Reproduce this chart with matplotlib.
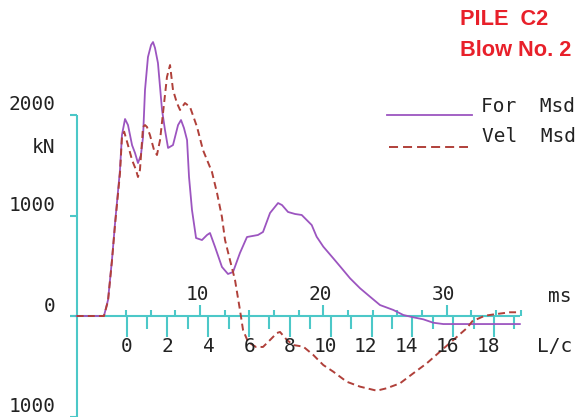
import matplotlib
matplotlib.use("Agg")
import matplotlib.pyplot as plt

plt.rcParams['lines.scale_dashes'] = False

# Measured force and velocity (velocity scaled to kN), time in ms
t_force = [0, 2.21, 2.54, 2.86, 3.11, 3.51, 3.67, 3.92, 4.16, 4.49, 4.73, 4.97, 5.21,
           5.38, 5.54, 5.78, 6.03, 6.19, 6.35, 6.59, 6.92, 7.16, 7.41, 7.81, 8.22, 8.46,
           8.70, 8.95, 9.11, 9.35, 9.68, 10.16, 10.57, 10.81, 11.22, 11.78, 12.27, 12.68,
           13.24, 13.81, 14.70, 15.11, 15.68, 16.33, 16.65, 17.14, 17.71, 18.25, 19.06,
           19.46, 20.0, 20.81, 21.49, 22.17, 22.98, 23.79, 24.60, 25.68, 26.49, 27.30,
           28.11, 28.92, 29.73, 35.94]
force = [0, 0, 159, 557, 925, 1453, 1801, 1960, 1900, 1700, 1622, 1522, 1602,
         1781, 2249, 2577, 2696, 2726, 2667, 2517, 2050, 1851, 1672, 1701, 1900, 1950,
         1870, 1751, 1383, 1055, 776, 756, 806, 826, 687, 488, 418, 438,
         627, 786, 806, 836, 1025, 1124, 1104, 1035, 1015, 1005, 905,
         789, 690, 574, 475, 375, 276, 192, 109, 60, 10, -13,
         -33, -67, -80, -80]

t_vel = [0, 2.21, 2.54, 2.86, 3.11, 3.51, 3.67, 3.85, 4.16, 4.49, 4.81, 4.97, 5.13,
         5.38, 5.54, 5.70, 5.94, 6.27, 6.51, 6.76, 7.00, 7.32, 7.57, 7.81, 8.13, 8.38,
         8.78, 9.19, 9.76, 10.24, 10.97, 11.38, 11.78, 12.03, 12.43, 12.84, 13.24,
         13.49, 13.90, 14.54, 15.11, 15.68, 16.24, 16.49, 17.06, 17.57, 18.38, 19.19,
         20.0, 20.81, 21.90, 22.98, 24.33, 25.14, 26.22, 27.30, 28.39, 29.46, 30.54,
         31.63, 32.17, 32.44, 33.11, 34.06, 35.14, 35.69]
velocity = [0, 0, 150, 550, 910, 1420, 1780, 1834, 1700, 1552, 1453, 1383, 1453,
            1881, 1900, 1881, 1801, 1652, 1602, 1751, 2020, 2378, 2497, 2249, 2119, 2050,
            2119, 2080, 1881, 1652, 1433, 1224, 985, 756, 557, 358, 60,
            -139, -259, -308, -308, -239, -169, -159, -240, -289, -305, -388,
            -488, -554, -654, -703, -743, -719, -670, -570, -471, -355, -239,
            -122, -40, -33, 3, 20, 37, 37]

ms_ticks = list(range(4, 37, 2))
ms_labels = [10, 20, 30]
lc_ticks = list(range(0, 20))
lc_labels = list(range(0, 20, 2))
lc_zero = 4.05          # ms at L/c = 0
lc_step = 1.655         # ms per L/c
kn_ticks = [2000, 1000, 0, -1000]
kn_labels = ['2000', '1000', '0', '1000']

axis_col = '#4cc8c8'
force_col = '#9c55c0'
vel_col = '#b0403a'
title_col = '#e8202a'
text_col = '#222222'
mono = 'DejaVu Sans Mono'

px_x = 12.33            # pixels per ms
px_y = 0.1005           # pixels per kN

fig = plt.figure(figsize=(5.77, 4.17), dpi=100)
ax = fig.add_axes([0, 0, 1, 1])
ax.set_xlim(-76.7 / px_x, (577 - 76.7) / px_x)
ax.set_ylim(-(417 - 316) / px_y, 316 / px_y)
ax.axis('off')

def dx(p):
    return p / px_x

def dy(p):
    return p / px_y

# axes
ax.plot([0, 0], [2000, -1100], color=axis_col, lw=1.5, solid_capstyle='butt')
ax.plot([dx(-6.5), dx(443)], [0, 0], color=axis_col, lw=1.5, solid_capstyle='butt')
for v in kn_ticks:
    ax.plot([dx(-7), 0], [v, v], color=axis_col, lw=1.5, solid_capstyle='butt')
for lab, v in zip(kn_labels, kn_ticks):
    ax.text(dx(-21), v + dy(10), lab, ha='right', va='center', fontsize=14,
            family=mono, color=text_col)
ax.text(dx(-21), 2000 - dy(33), 'kN', ha='right', va='center', fontsize=14,
        family=mono, color=text_col)

# ms ticks above the axis
for m in ms_ticks:
    h = 11 if m % 10 == 0 else 6
    ax.plot([m, m], [0, dy(h)], color=axis_col, lw=1.5, solid_capstyle='butt')
for m in ms_labels:
    ax.text(m - dx(3), dy(22), str(m), ha='center', va='center', fontsize=14,
            family=mono, color=text_col)
ax.text(dx(560 - 76.7), dy(19), 'ms', ha='center', va='center', fontsize=14,
        family=mono, color=text_col)

# L/c ticks below the axis
for n in lc_ticks:
    x = lc_zero + n * lc_step
    h = 21 if n % 2 == 0 else 13
    ax.plot([x, x], [0, -dy(h)], color=axis_col, lw=1.5, solid_capstyle='butt')
for n in lc_labels:
    x = lc_zero + n * lc_step
    ax.text(x + dx(6), -dy(31), str(n), ha='right', va='center', fontsize=14,
            family=mono, color=text_col)
ax.text(dx(555 - 76.7), -dy(30), 'L/c', ha='center', va='center', fontsize=14,
        family=mono, color=text_col)

# traces
ax.plot(t_force, force, color=force_col, lw=1.3)
ax.plot(t_vel, velocity, color=vel_col, lw=1.4, dashes=(5, 3))

# legend
ax.plot([dx(387 - 76.7), dx(472 - 76.7)], [dy(316 - 115)] * 2, color=force_col, lw=1.3)
ax.plot([dx(389 - 76.7), dx(468 - 76.7)], [dy(316 - 147)] * 2, color=vel_col, lw=1.4,
        dashes=(6.5, 3.6))
ax.text(dx(481 - 76.7), dy(316 - 106), 'For  Msd', ha='left', va='center', fontsize=14,
        family=mono, color=text_col)
ax.text(dx(482 - 76.7), dy(316 - 137), 'Vel  Msd', ha='left', va='center', fontsize=14,
        family=mono, color=text_col)

# title
ax.text(dx(460 - 76.7), dy(316 - 19.5), 'PILE  C2', ha='left', va='center', fontsize=15.7,
        family='Liberation Sans', weight='bold', color=title_col)
ax.text(dx(460 - 76.7), dy(316 - 50.5), 'Blow No. 2', ha='left', va='center',
        fontsize=15.7, family='Liberation Sans', weight='bold', color=title_col)

fig.savefig('out.png', dpi=100)
